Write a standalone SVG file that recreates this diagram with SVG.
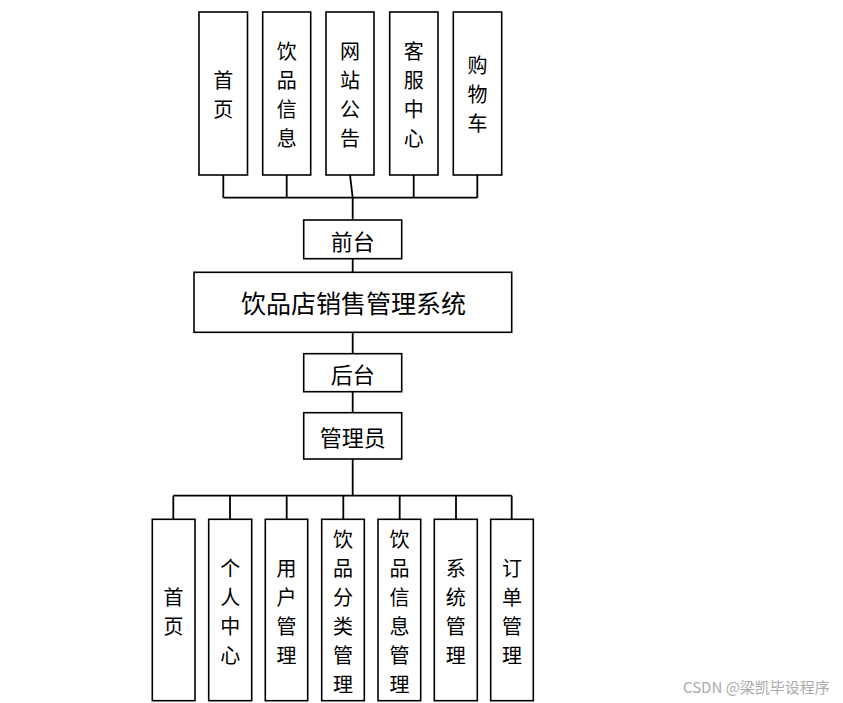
<svg xmlns="http://www.w3.org/2000/svg" width="843" height="703" viewBox="0 0 843 703">
<style>
.b{fill:#fff;stroke:#000;stroke-width:1.6}
.t{font-family:"Noto Sans CJK SC","Noto Sans",sans-serif;font-size:20px;fill:#000;text-anchor:middle;dominant-baseline:central}
.h{font-size:22px}
.m{font-size:25px}
.c{fill:none;stroke:#000;stroke-width:1.8}
.w{font-family:"Noto Sans CJK SC","Noto Sans",sans-serif;font-size:15px;fill:#aaa}
</style>
<rect width="843" height="703" fill="#fff"/>
<g id="connectors">
<path class="c" d="M223.3 175V197.7M286.7 175V197.7M350 175L352.7 197.7M413.7 175V197.7M477.3 175V197.7M223.3 197.7H477.3M352.7 197.7V220"/>
<path class="c" d="M352.7 258.7V272.3M352.7 332.3V353.7M352.7 391.7V412.7M352.7 459V495.7"/>
<path class="c" d="M173.3 495.7H511.7M173.3 495.7V519.3M230 495.7V519.3M286.7 495.7V519.3M343.3 495.7V519.3M399.7 495.7V519.3M456 495.7V519.3M511.7 495.7V519.3"/>
</g>
<g id="top1"><rect class="b" x="199" y="12" width="48.5" height="163"/><text class="t"><tspan x="223.3" y="79">首</tspan><tspan x="223.3" y="108">页</tspan></text></g>
<g id="top2"><rect class="b" x="262.7" y="12" width="48" height="163"/><text class="t"><tspan x="286.7" y="49.5">饮</tspan><tspan x="286.7" y="78.5">品</tspan><tspan x="286.7" y="107.5">信</tspan><tspan x="286.7" y="136.5">息</tspan></text></g>
<g id="top3"><rect class="b" x="326" y="12" width="48" height="163"/><text class="t"><tspan x="350" y="49.5">网</tspan><tspan x="350" y="78.5">站</tspan><tspan x="350" y="107.5">公</tspan><tspan x="350" y="136.5">告</tspan></text></g>
<g id="top4"><rect class="b" x="389.7" y="12" width="48.3" height="163"/><text class="t"><tspan x="413.8" y="49.5">客</tspan><tspan x="413.8" y="78.5">服</tspan><tspan x="413.8" y="107.5">中</tspan><tspan x="413.8" y="136.5">心</tspan></text></g>
<g id="top5"><rect class="b" x="453.3" y="12" width="48.4" height="163"/><text class="t"><tspan x="477.5" y="64">购</tspan><tspan x="477.5" y="93">物</tspan><tspan x="477.5" y="122">车</tspan></text></g>
<g id="qiantai"><rect class="b" x="303.7" y="220" width="98" height="38.7"/><text class="t h" x="352.7" y="239.5">前台</text></g>
<g id="system"><rect class="b" x="194" y="272.3" width="317.7" height="60"/><text class="t m" x="353.5" y="302">饮品店销售管理系统</text></g>
<g id="houtai"><rect class="b" x="303.7" y="353.7" width="98" height="38"/><text class="t h" x="352.7" y="373">后台</text></g>
<g id="admin"><rect class="b" x="303.7" y="412.7" width="98" height="46.3"/><text class="t h" x="352.7" y="435.5">管理员</text></g>
<g id="b1"><rect class="b" x="152.3" y="519.3" width="42.7" height="181.4"/><text class="t"><tspan x="173.6" y="595.5">首</tspan><tspan x="173.6" y="624.5">页</tspan></text></g>
<g id="b2"><rect class="b" x="208.7" y="519.3" width="43" height="181.4"/><text class="t"><tspan x="230.2" y="566.5">个</tspan><tspan x="230.2" y="595.5">人</tspan><tspan x="230.2" y="624.5">中</tspan><tspan x="230.2" y="653.5">心</tspan></text></g>
<g id="b3"><rect class="b" x="265.3" y="519.3" width="42.4" height="181.4"/><text class="t"><tspan x="286.5" y="566.5">用</tspan><tspan x="286.5" y="595.5">户</tspan><tspan x="286.5" y="624.5">管</tspan><tspan x="286.5" y="653.5">理</tspan></text></g>
<g id="b4"><rect class="b" x="321.7" y="519.3" width="42.6" height="181.4"/><text class="t"><tspan x="343" y="537.5">饮</tspan><tspan x="343" y="566.5">品</tspan><tspan x="343" y="595.5">分</tspan><tspan x="343" y="624.5">类</tspan><tspan x="343" y="653.5">管</tspan><tspan x="343" y="682.5">理</tspan></text></g>
<g id="b5"><rect class="b" x="378" y="519.3" width="42.7" height="181.4"/><text class="t"><tspan x="399.4" y="537.5">饮</tspan><tspan x="399.4" y="566.5">品</tspan><tspan x="399.4" y="595.5">信</tspan><tspan x="399.4" y="624.5">息</tspan><tspan x="399.4" y="653.5">管</tspan><tspan x="399.4" y="682.5">理</tspan></text></g>
<g id="b6"><rect class="b" x="434.3" y="519.3" width="43" height="181.4"/><text class="t"><tspan x="455.8" y="566.5">系</tspan><tspan x="455.8" y="595.5">统</tspan><tspan x="455.8" y="624.5">管</tspan><tspan x="455.8" y="653.5">理</tspan></text></g>
<g id="b7"><rect class="b" x="490.7" y="519.3" width="42.6" height="181.4"/><text class="t"><tspan x="512" y="566.5">订</tspan><tspan x="512" y="595.5">单</tspan><tspan x="512" y="624.5">管</tspan><tspan x="512" y="653.5">理</tspan></text></g>
<text class="w" x="683" y="693">CSDN @梁凯毕设程序</text>
</svg>
